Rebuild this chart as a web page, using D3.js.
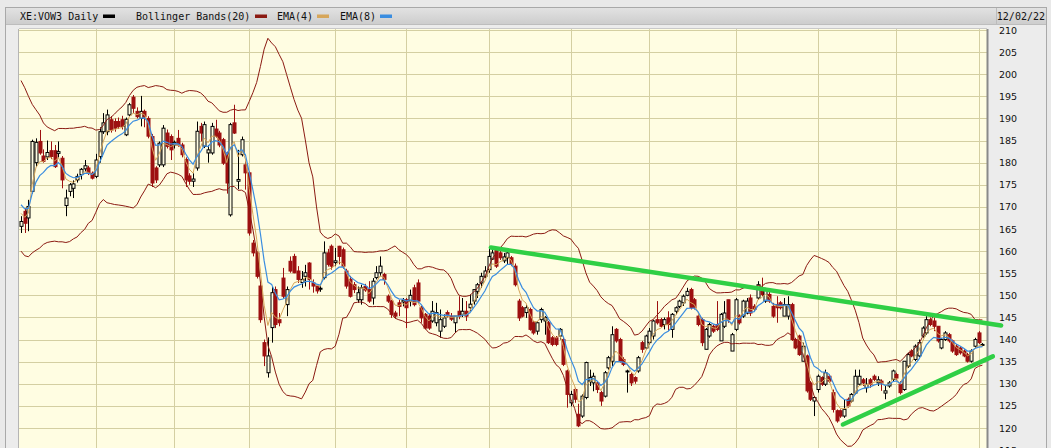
<!DOCTYPE html>
<html><head><meta charset="utf-8">
<script src="https://cdn.jsdelivr.net/npm/d3@7"></script>
<style>body{margin:0;background:#e9e9e9;overflow:hidden}svg{display:block}</style>
</head><body><svg id="c" width="1051" height="448"></svg>
<script>
// ---- data ----
const symbolLabel = "XE:VOW3 Daily";
const dateLabel = "12/02/22";
const legendNames = ["Bollinger Bands(20)", "EMA(4)", "EMA(8)"];
const priorCloses = [193,192,194,191,189,190,187,184,182,179,176,174,172,169,171,168,170,167,171];
const opens = [165.6,169,167.5,173.5,180,184.8,181.5,181.3,182.7,182.7,
182.1,181,170.3,173.5,174.2,176.1,177.3,178.6,178.8,177.6,
176.9,181.4,187,187,189.7,189.3,189.3,189.7,186.3,190.8,
194.8,191.6,190,191.6,190,185.9,178.8,179.5,179.5,186.7,
185.9,184,185.5,184,180.7,177,175.8,178.8,188.2,183.7,
182.2,182.2,187.6,186.7,185.2,182.2,168.2,189,175.8,181.8,
179.5,177.7,161.8,159.6,152.1,139.3,132.5,142.7,151.3,144.5,
153.9,147.9,157.7,158.8,155.5,152.9,154.3,157.3,152.8,152.1,
151.4,154,159.6,161.1,157.4,161.1,160.3,155.5,153.6,152.4,
149,149,152,151.3,149.4,154,155.1,154.7,149.8,148.7,
146,148.3,148.5,149,148.7,151.7,152.8,147.2,145.7,145.3,
144.2,143.8,141.9,143,146.1,145.3,143.8,146.4,145.7,146.4,
147.2,148.7,150.9,152.8,154.3,155.8,158.2,160.3,159.6,157.8,
158.5,158.5,156.6,148.7,147.2,146.1,146.8,143.8,141.9,144.5,
144.2,143.8,140.4,140.4,140.8,140,132.9,125.7,128.7,123.1,
122.7,126.9,130.6,130.2,130.2,128,127.2,133.6,135.1,142.3,
140,135.5,132.7,132.1,131.4,132.9,139.3,138.1,139.3,140.8,
144.5,144.5,143.4,144.9,142.3,146.4,147.5,148.3,150,151.3,
149,145.3,144.5,137.8,140.8,143,143.4,139.7,143,149,
137.4,142.3,145.3,145.3,146,149.4,147.5,149.4,151.7,148.7,
150.2,147.5,147.9,148.3,145.3,145.3,147.9,140,140.8,135.1,
136.3,130.2,126.1,128.7,131.4,129.9,131.7,128,123.9,123.9,
122.7,126.5,126.1,127.9,129.9,130.9,129.1,130.9,131.7,130.2,
130.6,127.9,129.5,131,132.1,129.9,128.7,134,137.4,135.5,
136.3,140.8,141.5,144.5,144.2,143,138.1,140,141.1,139.7,
138.5,138.1,137.4,136.6,135.1,138.5,141.5,138.7];
const highs = [167.9,169.7,171.6,185.2,185.5,187.4,183,185,184.8,184,
184.8,181.5,173.9,175.4,176,177.5,178.8,180.6,179.3,178,
182,188,191.2,192,190.5,190,190.2,190.6,190.2,193.5,
195.3,192.5,195.1,192,190.5,186.5,179.2,184.8,188.5,187.5,
186.4,185,187.4,184.5,181.2,177.6,177.6,189.3,189,189.3,
184,189,189.7,187.2,185.6,182.5,189,193.1,182.9,185.9,
180.3,178,162.5,160,152.5,140,140.5,152.1,152,146,
156.2,152,158.8,159.4,156.6,155.5,156.9,157.5,153.6,152.5,
152.2,162.2,160.5,161.5,160.7,161.2,160.8,156,154.4,153,
152,152.4,152.6,153.2,153.9,156.6,158.8,155.1,150.2,149,
146.5,149,149.4,149.4,151.3,152.4,153.6,147.6,146,145.8,
148.7,148.3,146.8,145.7,146.6,146,145.3,149.8,149.4,148.7,
150.2,151.3,152.8,155.1,156.6,160.7,161.1,160.7,160.3,159.6,
160.7,158.9,157.2,149.2,147.6,147.9,147.2,144.2,144.2,147.2,
145.3,144.2,140.8,140.8,142.6,140.4,133.2,128.4,129.1,125.5,
127.6,135,133.2,132.5,130.6,128.4,132.9,136.3,143,142.6,
140.4,136,133.2,132.5,131.7,136.3,139.7,141.1,142.6,144.5,
148.7,144.9,145,146.4,146,147.5,149,150.2,151.7,151.7,
149.4,145.7,144.9,142.6,143.8,143.4,148.7,146,148.7,149,
141.5,149.4,145.7,149,149.4,150.2,148,153.2,154,151.7,
151.3,148.3,149.8,148.7,149.4,149.8,148.3,140.4,141.1,139.3,
136.6,130.6,127.2,132.1,131.7,133.2,132.1,128.7,124.2,124.2,
126.5,126.9,127.9,133.2,133.2,131.3,131.3,131.3,132.1,131.7,
131,129.5,130.6,133.2,132.5,130.6,135.1,137,137.8,138.9,
140,143,145.3,145,145,143,140.4,141.9,141.5,140,
139,138.5,137.8,137,137.8,140.4,141.9,139.2];
const lows = [164.1,164.1,164.5,173,179,181.8,180,180.6,180.8,178.8,
181,174.2,167.9,172.4,172,175.5,176.2,178,177.2,176.2,
176.5,180,186.5,186.2,186.8,187,187.6,187.5,186,190.5,
191.2,190,188.2,188,185.5,174.5,175.4,179,179,183.2,
180.6,183.2,183.6,181.2,174.5,175,174.5,178.2,184.8,183.3,
180,181.8,185.6,183.5,179.5,173,167.8,186.5,174,181.4,
173.9,163.5,158.8,153.8,143.8,134,131.4,139.3,142.6,143,
149.4,145.3,155.1,155,152.8,151.7,152,151.3,150.6,150.4,
150.8,153.6,156.5,155.8,156.6,157,156,151.5,149.5,150.5,
148.3,147.9,150.8,148.3,147.9,153.6,154.3,152.4,148.3,144.9,
144.8,145.3,147.5,142.6,147.5,147.5,148.3,143.8,142.3,142.2,
143.8,143,140.4,142.6,145,144.2,141.5,144.6,145.1,144.2,
146.4,147.9,149.4,151.7,153.9,155.1,158,156.2,158,157.3,
157,156.6,152,144.2,145,144.9,142,141.1,141.1,143.8,
141.1,139,138.5,138.5,140,134,124.6,124.9,125.7,120.2,
122.3,126.5,129.5,128.3,127.9,125,126.9,133.2,134,139.3,
134.8,134,128,129.5,130,132.5,137,137.8,138.9,140,
143.4,142.6,142.3,141.9,140.4,145.7,147.1,147.6,149.8,146.8,
146.8,143,138.5,137.8,140.4,141.5,141.9,139.7,142.6,143.8,
137.4,141.9,143.4,144.9,145.7,145.3,146.4,149,149.8,148.3,
148.3,144.9,143.8,146.8,145.3,144.5,139.7,137.8,136.3,135.1,
128,126.1,122.7,128,129.5,129.5,130.2,123.5,121.2,122.3,
122.3,124.6,125.7,127.6,129.5,129.5,128,129.1,130.6,129.5,
128.4,126.5,129.1,130.6,130.8,127.6,128.4,133.6,136,135.1,
136,140.4,141.1,143,141.9,139.3,137.8,139.7,139.3,137,
136.3,136.6,136,134.8,134.8,138.1,139,138.5];
const closes = [166.7,166.3,170.1,184.8,184.6,182.2,180.3,182.3,181.4,179.1,
182.5,176.1,172,175,175.2,176.9,178.5,179.3,177.6,176.5,
180.6,187,189,190.8,187.4,187.8,188.2,188.2,189.8,193.1,
192.3,190.4,191.6,190.4,186,175.4,176.1,184.4,187.8,183.7,
182.9,184.6,184,181.8,176.1,175.8,176.3,187.1,186.7,188.6,
182.9,188.2,186,184,179.9,175.4,188.6,186.7,176.2,185.2,
177.7,164.1,159.6,154.3,144.5,136.3,136.3,150.6,143.4,143.8,
149.8,151.3,155.5,155.1,153.6,153.6,155.1,153.6,152.1,151,
151.6,159.6,157,156.6,157.8,158.8,156.6,152.1,149.8,151.3,
150.6,151.7,151.2,148.7,153.2,155.1,156.6,153.6,148.7,145.7,
145.3,147.5,148.9,147.2,150,147.9,148.7,144.9,142.6,142.6,
146.4,146.1,144.5,144.9,145.7,144.6,145.3,145.3,146.4,145.3,
148,151.3,152.4,154.3,155.5,158.8,159.6,156.6,158.5,158.7,
159.6,157,152.4,144.9,145.3,147.2,142.3,141.5,143.8,146.8,
145,139.3,138.9,138.9,142.3,134.4,127.6,127.6,126.5,120.5,
127.2,134.8,131.4,131.7,128.7,126.1,132.5,135.9,141.1,139.7,
135.1,134.4,132.9,130.2,130.6,135.9,137.8,140.8,141.9,144.2,
143.8,143,144.5,143.4,145.7,147.2,148.7,149.8,150.9,147.2,
147.2,143.4,139.3,142.3,143.4,141.9,142.3,145.7,146,144.5,
141.1,149,143.8,148.7,148.7,146,146.8,152.4,150.2,151.3,
148.7,145.3,147.2,147.2,147.9,147.9,140,138.1,136.6,138.5,
128.4,126.5,126.9,131.7,129.9,132.5,130.6,124.2,121.6,122.7,
124.2,125,127.6,131.7,131.7,130.2,129.9,129.9,131,130.9,
130.2,128.4,130.2,132.9,131.3,128,135.1,136.6,136.3,138.5,
139.3,142.6,144.5,143.4,143,139.7,140,141.5,139.7,137.4,
136.6,137,136.3,135.1,137.4,140,139.3,138.9];
const monthStartIdx = [20,41,61,84,103,125,147,168,191,213,234,256];
const yTickValues = [210,205,200,195,190,185,180,175,170,165,160,155,150,145,140,135,130,125,120,115];
const trendUpper = [[125.6,160.8],[262,143.2]];
const trendLower = [[219.7,120.8],[259.8,136.2]];

// ---- derived indicators ----
const N = closes.length;
const all = priorCloses.concat(closes);
const P = priorCloses.length;
const boll = closes.map((c,i)=>{
  const w = all.slice(i+P-19, i+P+1);
  const m = d3.mean(w);
  const sd = Math.sqrt(d3.mean(w, v=>(v-m)*(v-m)));
  return {i, up:m+2*sd, lo:m-2*sd};
});
function ema(n){
  const k = 2/(n+1); let e = all[0]; const out=[];
  all.forEach((v,j)=>{ if(j>0) e = v*k + e*(1-k); if(j>=P) out.push({i:j-P, v:e}); });
  return out;
}
const ema4 = ema(4), ema8 = ema(8);

// ---- drawing ----
const svg = d3.select('#c');
const plotL = 19, plotR = 987, plotT = 29, plotB = 470;
const x = d3.scaleLinear().domain([0, N-1]).range([21, 982.4]);
const y = d3.scaleLinear().domain([120, 210]).range([428, 30]);

const defs = svg.append('defs');
const g1 = defs.append('linearGradient').attr('id','hdr').attr('x1',0).attr('y1',0).attr('x2',0).attr('y2',1);
g1.append('stop').attr('offset','0%').attr('stop-color','#e2e2e2');
g1.append('stop').attr('offset','100%').attr('stop-color','#cdcdcd');
defs.append('clipPath').attr('id','pc').append('rect')
  .attr('x',plotL).attr('y',plotT).attr('width',plotR-plotL).attr('height',plotB-plotT);

// outer panel
svg.append('rect').attr('x',0).attr('y',0).attr('width',1051).attr('height',448).attr('fill','#e9e9e9');
svg.append('rect').attr('x',5.5).attr('y',7.5).attr('width',1041).attr('height',460)
  .attr('fill','#ececec').attr('stroke','#a9a9a9');
// header
svg.append('rect').attr('x',6).attr('y',8).attr('width',1040).attr('height',16).attr('fill','url(#hdr)');
svg.append('line').attr('x1',6).attr('x2',1046).attr('y1',24.5).attr('y2',24.5).attr('stroke','#bdbdbd');
svg.append('line').attr('x1',996.5).attr('x2',996.5).attr('y1',8).attr('y2',24).attr('stroke','#bcbcbc');

const hdrFont = "'DejaVu Sans Mono', monospace";
svg.append('text').attr('x',20).attr('y',20).attr('font-family',hdrFont).attr('font-size',10)
  .attr('fill','#111').text(symbolLabel);
svg.append('rect').attr('x',103).attr('y',14.5).attr('width',12).attr('height',3.5).attr('fill','#000');
const legendColors = ['#8b1a12','#d6a65a','#3a8de0'];
const legendX = [136, 277, 340];
const swatchX = [255, 317, 380];
legendNames.forEach((n,k)=>{
  svg.append('text').attr('x',legendX[k]).attr('y',20).attr('font-family',hdrFont).attr('font-size',10)
    .attr('fill','#111').text(n);
  svg.append('rect').attr('x',swatchX[k]).attr('y',14.5).attr('width',12).attr('height',3.5).attr('fill',legendColors[k]);
});
svg.append('text').attr('x',1045).attr('y',19.5).attr('text-anchor','end').attr('font-family',hdrFont)
  .attr('font-size',10).attr('fill','#111').text(dateLabel);

// plot background
svg.append('rect').attr('x',plotL).attr('y',plotT).attr('width',plotR-plotL).attr('height',plotB-plotT)
  .attr('fill','#fffde2');

const plot = svg.append('g').attr('clip-path','url(#pc)');
// grid
plot.append('g').selectAll('line').data(yTickValues).join('line')
  .attr('x1',plotL).attr('x2',plotR).attr('y1',d=>Math.round(y(d))+0.5).attr('y2',d=>Math.round(y(d))+0.5)
  .attr('stroke','#d4cfa2').attr('stroke-width',1);
plot.append('g').selectAll('line').data(monthStartIdx).join('line')
  .attr('x1',d=>Math.round(x(d))+0.5).attr('x2',d=>Math.round(x(d))+0.5).attr('y1',plotT).attr('y2',plotB)
  .attr('stroke','#d4cfa2').attr('stroke-width',1);

// candles
const red = '#9d1010';
const cg = plot.append('g');
const idx = d3.range(N);
cg.selectAll('line.w').data(idx).join('line').attr('class','w')
  .attr('x1',i=>Math.round(x(i))+0.5).attr('x2',i=>Math.round(x(i))+0.5)
  .attr('y1',i=>y(highs[i])).attr('y2',i=>y(lows[i]))
  .attr('stroke',i=>closes[i]>=opens[i]?'#000':red).attr('stroke-width',1);
cg.selectAll('rect.b').data(idx).join('rect').attr('class','b')
  .attr('x',i=>Math.round(x(i))-1).attr('width',3)
  .attr('y',i=>y(Math.max(opens[i],closes[i])))
  .attr('height',i=>Math.max(1, Math.abs(y(opens[i])-y(closes[i]))))
  .attr('fill',i=>closes[i]>=opens[i]?'#fffde2':red)
  .attr('stroke',i=>closes[i]>=opens[i]?'#000':red).attr('stroke-width',1);

// indicators
const lineB = d3.line().x(d=>x(d.i)).curve(d3.curveLinear);
plot.append('path').datum(boll).attr('fill','none').attr('stroke','#8b1a12').attr('stroke-width',1)
  .attr('d', d3.line().x(d=>x(d.i)).y(d=>y(d.up)));
plot.append('path').datum(boll).attr('fill','none').attr('stroke','#8b1a12').attr('stroke-width',1)
  .attr('d', d3.line().x(d=>x(d.i)).y(d=>y(d.lo)));
plot.append('path').datum(ema4).attr('fill','none').attr('stroke','#d6a65a').attr('stroke-width',1)
  .attr('d', d3.line().x(d=>x(d.i)).y(d=>y(d.v)));
plot.append('path').datum(ema8).attr('fill','none').attr('stroke','#3a8de0').attr('stroke-width',1.2)
  .attr('d', d3.line().x(d=>x(d.i)).y(d=>y(d.v)));

// plot frame
svg.append('line').attr('x1',plotL-0.5).attr('x2',plotL-0.5).attr('y1',plotT).attr('y2',plotB).attr('stroke','#b5b5b5');
svg.append('line').attr('x1',plotR+0.5).attr('x2',plotR+0.5).attr('y1',plotT).attr('y2',plotB).attr('stroke','#8a8a8a').attr('stroke-width',2);
svg.append('line').attr('x1',plotL).attr('x2',plotR).attr('y1',plotT-0.5).attr('y2',plotT-0.5).attr('stroke','#c9c9c9');

// right axis labels
const ax = svg.append('g').attr('transform','translate(999,0)')
  .call(d3.axisRight(y).tickValues(yTickValues).tickSize(0).tickPadding(0).tickFormat(d3.format('d')));
ax.select('.domain').remove();
ax.selectAll('text').attr('font-family',"'DejaVu Sans', Verdana, sans-serif").attr('font-size',9.5).attr('fill','#111');

// trend lines
const tl = d3.line().x(d=>x(d[0])).y(d=>y(d[1]));
[trendUpper, trendLower].forEach(t=>{
  svg.append('path').attr('d',tl(t)).attr('fill','none').attr('stroke','#2fcf45')
    .attr('stroke-width',4.5).attr('stroke-linecap','round');
});
</script></body></html>
